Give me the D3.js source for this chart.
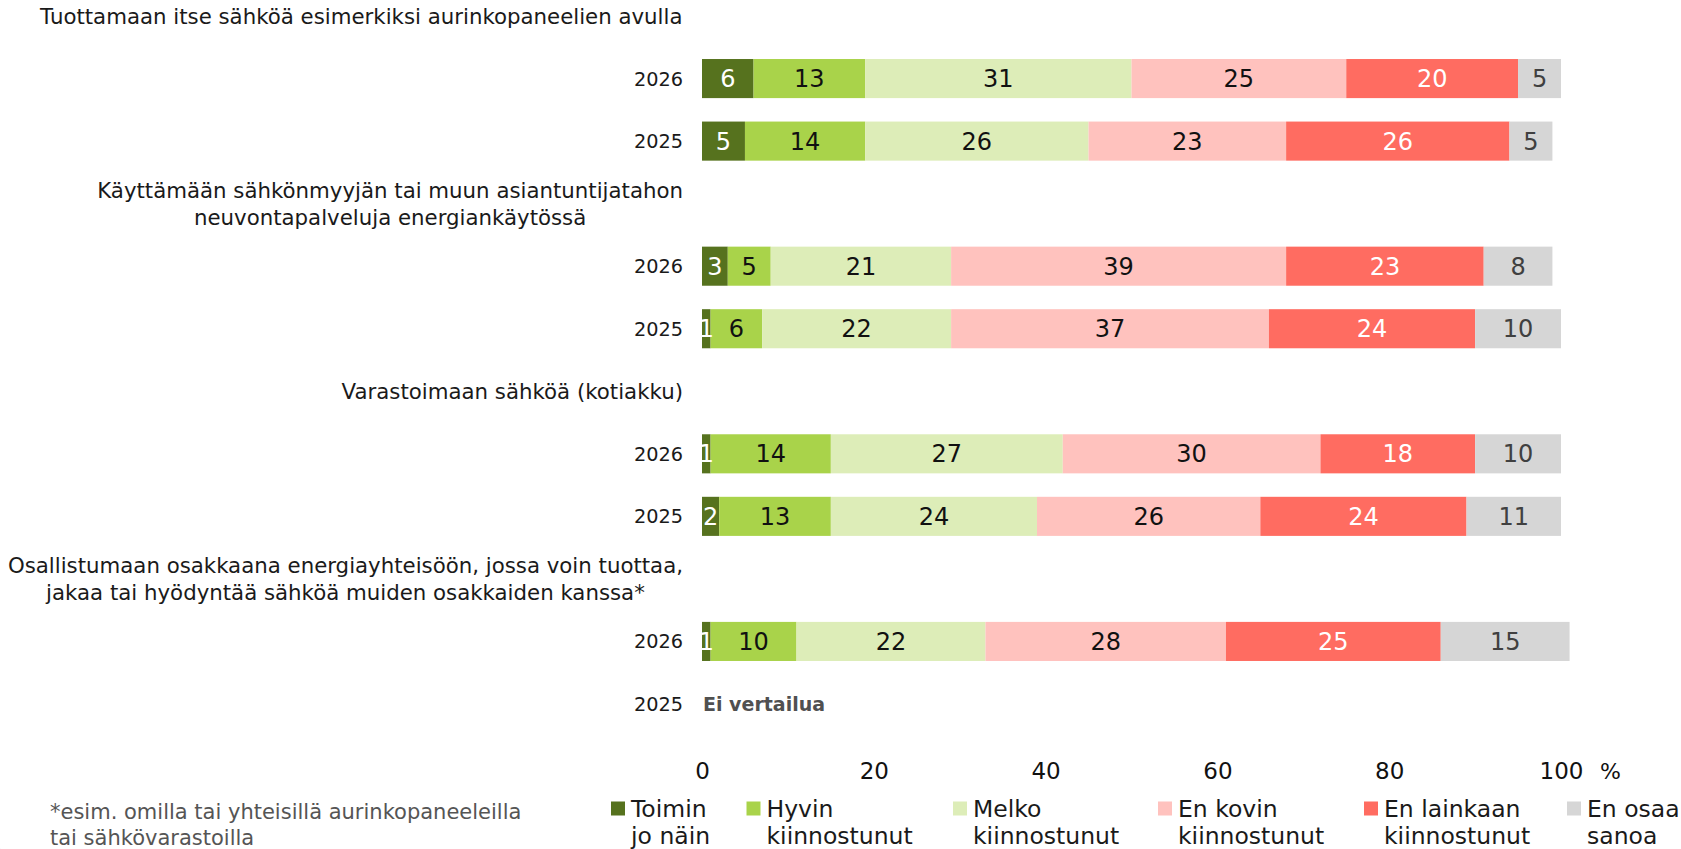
<!DOCTYPE html>
<html>
<head>
<meta charset="utf-8">
<script src="https://cdn.jsdelivr.net/npm/d3@7"></script>
<style>
  html, body { margin: 0; padding: 0; background: #fff; }
  svg { display: block; }
  text { font-family: "DejaVu Sans", "Open Sans", sans-serif; }
</style>
</head>
<body>
<svg id="chart" width="1681" height="849"></svg>
<script>
// ---- Data ----
const groupTitles = [
  ["Tuottamaan itse sähköä esimerkiksi aurinkopaneelien avulla"],
  ["Käyttämään sähkönmyyjän tai muun asiantuntijatahon", "neuvontapalveluja energiankäytössä"],
  ["Varastoimaan sähköä (kotiakku)"],
  ["Osallistumaan osakkaana energiayhteisöön, jossa voin tuottaa,", "jakaa tai hyödyntää sähköä muiden osakkaiden kanssa*"]
];
const years = ["2026", "2025"];
const seriesNames = ["Toimin jo näin", "Hyvin kiinnostunut", "Melko kiinnostunut", "En kovin kiinnostunut", "En lainkaan kiinnostunut", "En osaa sanoa"];
const legendLines = [["Toimin", "jo näin"], ["Hyvin", "kiinnostunut"], ["Melko", "kiinnostunut"], ["En kovin", "kiinnostunut"], ["En lainkaan", "kiinnostunut"], ["En osaa", "sanoa"]];
// rows: group1 2026, group1 2025, group2 2026, group2 2025, ...
const toiminJoNain      = [6, 5, 3, 1, 1, 2, 1, null];
const hyvinKiinnostunut = [13, 14, 5, 6, 14, 13, 10, null];
const melkoKiinnostunut = [31, 26, 21, 22, 27, 24, 22, null];
const enKovin           = [25, 23, 39, 37, 30, 26, 28, null];
const enLainkaan        = [20, 26, 23, 24, 18, 24, 25, null];
const enOsaaSanoa       = [5, 5, 8, 10, 10, 11, 15, null];
const xTicks = [0, 20, 40, 60, 80, 100];
const noComparisonText = "Ei vertailua";
const footnote = ["*esim. omilla tai yhteisillä aurinkopaneeleilla", "tai sähkövarastoilla"];

// ---- Styles ----
const colors = ["#56721E", "#A9D34A", "#DDEDB8", "#FFC2BE", "#FF6C61", "#D6D6D6"];
const labelColors = ["#ffffff", "#111111", "#111111", "#111111", "#ffffff", "#404040"];

const svg = d3.select("#chart");

// slots: title, 2026, 2025 for each group
const slots = [];
groupTitles.forEach((t, g) => {
  slots.push({ key: "t" + g, type: "title", g });
  years.forEach((yr, yi) => slots.push({ key: "r" + g + "_" + yi, type: "row", g, yi, row: g * 2 + yi, year: yr }));
});

const y = d3.scaleBand()
  .domain(slots.map(d => d.key))
  .range([-15.25, 735.25])
  .paddingInner(0.375)
  .paddingOuter(0.1875);

const x = d3.scaleLinear().domain([0, 100]).range([702, 1561]);

const seriesValues = [toiminJoNain, hyvinKiinnostunut, melkoKiinnostunut, enKovin, enLainkaan, enOsaaSanoa];

// build stacked data
const rows = slots.filter(d => d.type === "row");
const stackData = rows.map(r => {
  const o = { key: r.key, row: r.row };
  seriesNames.forEach((s, i) => o[s] = seriesValues[i][r.row]);
  return o;
});
const stack = d3.stack().keys(seriesNames).value((d, k) => d[k] == null ? 0 : d[k]);
const layers = stack(stackData);

const labelX = 683;

// titles (centred lines, block right-aligned)
slots.filter(d => d.type === "title").forEach(s => {
  const lines = groupTitles[s.g];
  const cy = y(s.key) + y.bandwidth() / 2;
  const lh = 26.5;
  const t = svg.append("text")
    .attr("font-size", 21.3)
    .attr("fill", "#1a1a1a")
    .attr("text-anchor", "middle");
  lines.forEach((ln, i) => {
    t.append("tspan").attr("x", 0).attr("y", cy + (i - (lines.length - 1) / 2) * lh).attr("dy", "0.36em").text(ln);
  });
  const w = t.node().getBBox().width;
  t.attr("transform", `translate(${labelX - w / 2},0)`);
});

// year labels
svg.append("g").selectAll("text").data(rows).join("text")
  .attr("x", labelX)
  .attr("y", d => y(d.key) + y.bandwidth() / 2)
  .attr("dy", "0.36em")
  .attr("text-anchor", "end")
  .attr("font-size", 19.3)
  .attr("fill", "#1a1a1a")
  .text(d => d.year);

// bars
const gBars = svg.append("g");
layers.forEach((layer, i) => {
  const g = gBars.append("g");
  layer.forEach((seg, j) => {
    const v = seriesValues[i][stackData[j].row];
    if (v == null) return;
    g.append("rect")
      .attr("x", x(seg[0]))
      .attr("y", y(stackData[j].key))
      .attr("width", x(seg[1]) - x(seg[0]))
      .attr("height", y.bandwidth())
      .attr("fill", colors[i]);
  });
});
layers.forEach((layer, i) => {
  layer.forEach((seg, j) => {
    const v = seriesValues[i][stackData[j].row];
    if (v == null) return;
    gBars.append("text")
      .attr("x", (x(seg[0]) + x(seg[1])) / 2)
      .attr("y", y(stackData[j].key) + y.bandwidth() / 2)
      .attr("dy", "0.36em")
      .attr("text-anchor", "middle")
      .attr("font-family", "'Open Sans', sans-serif")
      .attr("font-size", 24)
      .attr("font-weight", 500)
      .attr("fill", labelColors[i])
      .text(v);
  });
});

// no comparison
rows.filter(r => seriesValues.every(s => s[r.row] == null)).forEach(r => {
  svg.append("text")
    .attr("x", x(0) + 1)
    .attr("y", y(r.key) + y.bandwidth() / 2)
    .attr("dy", "0.36em")
    .attr("font-family", "'Open Sans', sans-serif")
    .attr("font-size", 19)
    .attr("font-weight", 700)
    .attr("fill", "#505050")
    .text(noComparisonText);
});

// x axis
const axis = d3.axisBottom(x).tickValues(xTicks).tickSize(0).tickPadding(0);
const ga = svg.append("g").attr("transform", "translate(0,771)").call(axis);
ga.select(".domain").remove();
ga.selectAll("text").attr("dy", "0.36em").attr("font-size", 23).attr("fill", "#111").attr("font-family", "'DejaVu Sans', sans-serif");
svg.append("text").attr("x", x(100) + 39).attr("y", 771).attr("dy", "0.36em")
  .attr("text-anchor", "start").attr("font-size", 22).attr("fill", "#111").text("%");

// legend
const legendX = [611, 746.5, 953, 1158, 1364, 1567];
const lg = svg.append("g");
seriesNames.forEach((name, i) => {
  const g = lg.append("g").attr("transform", `translate(${legendX[i]},0)`);
  g.append("rect").attr("x", 0).attr("y", 801.5).attr("width", 14).attr("height", 14).attr("fill", colors[i]);
  legendLines[i].forEach((ln, k) => {
    g.append("text").attr("x", 20).attr("y", 816.7 + k * 27.3)
      .attr("font-size", 23.5).attr("fill", "#1a1a1a").text(ln);
  });
});

// footnote
footnote.forEach((ln, k) => {
  svg.append("text").attr("x", 50).attr("y", 819 + k * 26)
    .attr("font-size", 21).attr("fill", "#555555")
    .text(ln);
});

// decorative corner
svg.append("circle").attr("cx", -22).attr("cy", 872).attr("r", 32).attr("fill", "#3a3ff0");
</script>
</body>
</html>
